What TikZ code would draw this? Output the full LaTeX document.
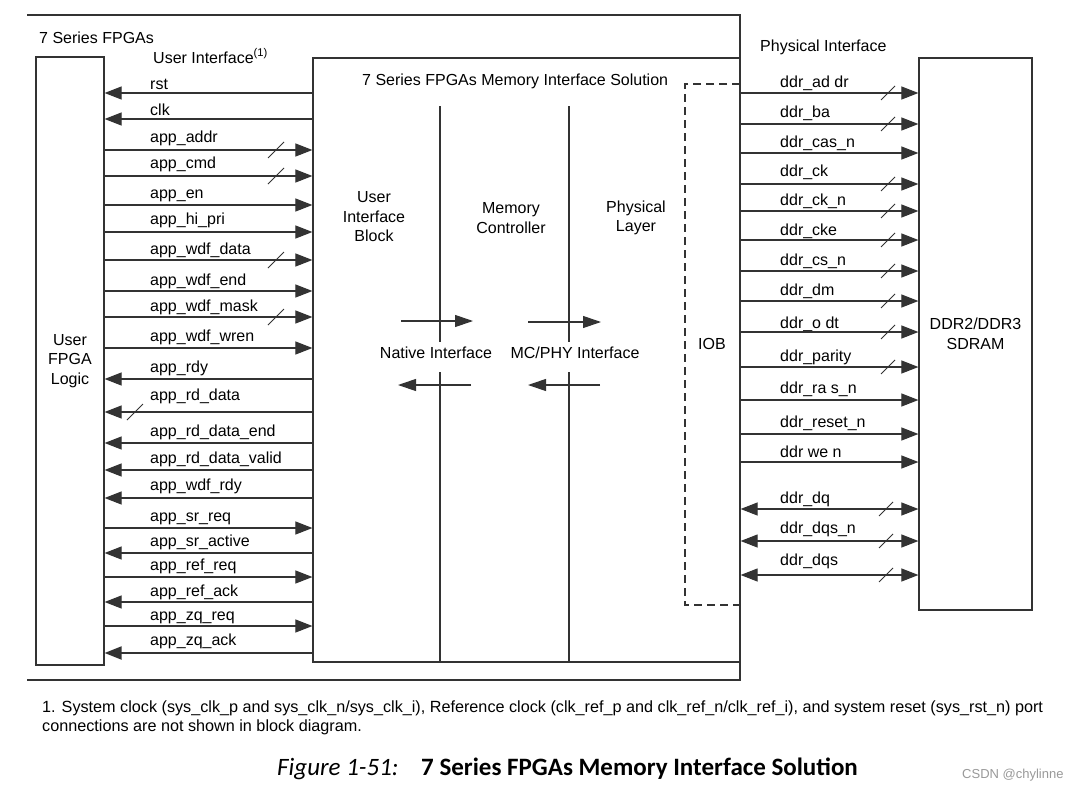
\documentclass[tikz,border=0pt]{standalone}
\usepackage{fontspec}
\setmainfont{Liberation Sans}
\newfontfamily\capfont{Carlito}
\usetikzlibrary{arrows.meta}
\definecolor{linec}{gray}{0.2}
\begin{document}
\begin{tikzpicture}[x=1pt,y=-1pt,
  tip/.tip={Triangle[length=17pt,width=13pt]},
  box/.style={draw=linec,line width=1.2pt,inner sep=0pt,align=center,
    font=\fontsize{16}{19.5}\selectfont},
  lbl/.style={inner sep=0pt,anchor=base west,font=\fontsize{16}{19}\selectfont},
  txt/.style={inner sep=0pt,align=center,font=\fontsize{16}{19.5}\selectfont},
  sig/.style={draw=linec,line width=1.1pt},
  toR/.style={-tip},
  toL/.style={tip-},
  both/.style={tip-tip},
  slash/.style={draw=linec,line width=1pt},
  frame/.style={draw=linec,line width=1.1pt},
  midarrow/.style={draw=linec,line width=1.1pt,-{Triangle[length=18pt,width=12pt]}},
  divider/.style={draw=linec,line width=1.1pt}]
\useasboundingbox (0,0) rectangle (1079,790);
\fill[white] (0,0) rectangle (1079,790);

% outer frame of 7 Series FPGAs
\draw[frame] (27,15) -- (740,15) -- (740,680) -- (27,680);
\node[lbl] (fpgas) at (39,43) {7 Series FPGAs};
\node[lbl] (uif) at (153,63) {User Interface\textsuperscript{(1)}};
\node[lbl] (phyif) at (760,51) {Physical Interface};

% main boxes
\node[box,minimum width=68pt,minimum height=608pt] (ufl) at (70,361) {User\\FPGA\\Logic};
\node[box,minimum width=427pt,minimum height=604pt] (mis) at (526.5,360) {};
\node[box,minimum width=113pt,minimum height=552pt] (ddr) at (975.5,334) {DDR2/DDR3\\SDRAM};

% IOB dashed
\draw[draw=linec,line width=1.1pt,dash pattern=on 8pt off 5pt] (740,84) -- (685,84) -- (685,605) -- (740,605);
\node[txt] (iob) at (712,344) {IOB};

% inner titles
\node[lbl] (mistitle) at (362,85) {7 Series FPGAs Memory Interface Solution};
\node[txt] (uib) at (374,217) {User\\Interface\\Block};
\node[txt] (mc) at (511,218) {Memory\\Controller};
\node[txt] (pl) at (636,218) {Physical\\Layer};
\node[txt,anchor=base] (ni) at (436,358) {Native Interface};
\node[txt,anchor=base] (mcphy) at (575,358) {MC/PHY Interface};

% dividers
\draw[divider] (440,106) -- (440,342);
\draw[divider] (440,372) -- (mis.south -| 440,0);
\draw[divider] (569,106) -- (569,342);
\draw[divider] (569,372) -- (mis.south -| 569,0);
\draw[midarrow] (401,321) -- (473,321);
\draw[midarrow] (528,322) -- (601,322);
\draw[midarrow] (471,385) -- (398,385);
\draw[midarrow] (600,385) -- (528,385);

% left signals
\foreach \y/\t/\d/\s/\o/\w in {
  93/rst/toL/0/4/1.1, 119/clk/toL/0/4/1.1,
  150/app\_addr/toR/276/8/1.1, 176/app\_cmd/toR/276/8/1.1,
  205/app\_en/toR/0/7/1.1, 232/app\_hi\_pri/toR/0/8/1.1,
  260/app\_wdf\_data/toR/276/6/1.1, 291/app\_wdf\_end/toR/0/6/1.1,
  317/app\_wdf\_mask/toR/276/6/1.1, 348/app\_wdf\_wren/toR/0/7/1.1,
  379/app\_rdy/toL/0/7/1.1, 412/app\_rd\_data/toL/135/12/1.1,
  443/app\_rd\_data\_end/toL/0/7/1.1, 470/app\_rd\_data\_valid/toL/0/7/1.1,
  498/app\_wdf\_rdy/toL/0/8/1.1, 528/app\_sr\_req/toR/0/7/1.1,
  553/app\_sr\_active/toL/0/7/1.1, 577/app\_ref\_req/toR/0/7/1.1,
  602/app\_ref\_ack/toL/0/6/1.1, 626/app\_zq\_req/toR/0/6/1.1,
  653/app\_zq\_ack/toL/0/8/2.0}{
  \node[lbl] (l\y) at (150,{\y-\o}) {\t};
  \draw[sig,\d,line width=\w pt] (ufl.east |- 0,\y) -- (mis.west |- 0,\y);
  \ifnum\s>0 \draw[slash] ({\s-8},{\y+8}) -- ({\s+8},{\y-8}); \fi
}

% right signals
\foreach \y/\t/\d/\s/\o in {
  93/ddr\_ad dr/toR/888/6, 124/ddr\_ba/toR/888/7, 153/ddr\_cas\_n/toR/0/6,
  184/ddr\_ck/toR/888/8, 211/ddr\_ck\_n/toR/888/6, 240/ddr\_cke/toR/888/5,
  271/ddr\_cs\_n/toR/888/6, 301/ddr\_dm/toR/888/6, 332/ddr\_o dt/toR/888/4,
  367/ddr\_parity/toR/888/6, 400/ddr\_ra s\_n/toR/0/7, 434/ddr\_reset\_n/toR/0/7,
  462/ddr we n/toR/0/5, 509/ddr\_dq/both/886/6, 541/ddr\_dqs\_n/both/886/8,
  575/ddr\_dqs/both/886/10}{
  \node[lbl] (r\y) at (780,{\y-\o}) {\t};
  \draw[sig,\d] (mis.east |- 0,\y) -- (ddr.west |- 0,\y);
  \ifnum\s>0 \draw[slash] ({\s-7},{\y+7}) -- ({\s+7},{\y-7}); \fi
}

% footnote and caption
\node[lbl,font=\fontsize{16.2}{19}\selectfont] (fn1) at (42,712) {1. System clock (sys\_clk\_p and sys\_clk\_n/sys\_clk\_i), Reference clock (clk\_ref\_p and clk\_ref\_n/clk\_ref\_i), and system reset (sys\_rst\_n) port};
\node[lbl,font=\fontsize{16.2}{19}\selectfont] (fn2) at (42,731) {connections are not shown in block diagram.};
\node[lbl,font=\capfont\fontsize{25}{29}\selectfont\itshape] (figno) at (277,775) {Figure 1-51:};
\node[lbl,font=\capfont\fontsize{25}{29}\selectfont\bfseries] (figtitle) at (421,775) {7 Series FPGAs Memory Interface Solution};
\node[lbl,font=\fontsize{13}{15}\selectfont,text=black!40] (wm) at (962,778) {CSDN @chylinne};
\end{tikzpicture}
\end{document}
